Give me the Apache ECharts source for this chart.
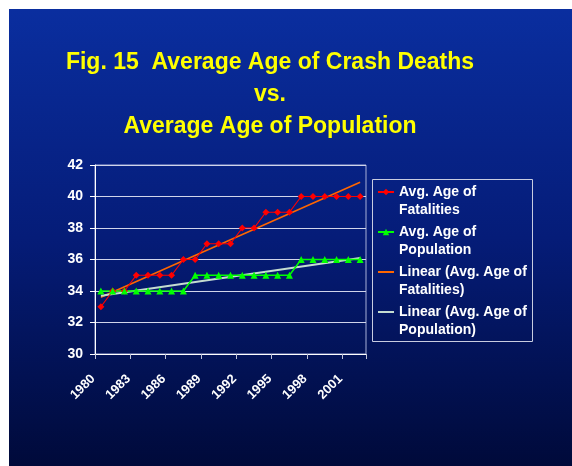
<!DOCTYPE html>
<html>
<head>
<meta charset="utf-8">
<script src="https://cdn.jsdelivr.net/npm/echarts@6/dist/echarts.min.js"></script>
<style>
  html, body { margin: 0; padding: 0; background: #ffffff; }
  #chart { position: absolute; left: 9px; top: 9px; width: 563px; height: 457px; }
</style>
</head>
<body>
<div id="chart"></div>
<script>
// years on the x axis
const years = ["1980","1981","1982","1983","1984","1985","1986","1987","1988","1989","1990",
  "1991","1992","1993","1994","1995","1996","1997","1998","1999","2000","2001","2002"];
// average age of fatalities
const fatalities = [33,34,34,35,35,35,35,36,36,37,37,37,38,38,39,39,39,40,40,40,40,40,40];
// average age of population
const population = [34,34,34,34,34,34,34,34,35,35,35,35,35,35,35,35,35,36,36,36,36,36,36];
// trend line end points
const trendFatal = [["1980", 33.6], ["2002", 40.9]];
const trendPop = [["1980", 33.7], ["2002", 36.1]];
const yTicks = { min: 30, max: 42, step: 2 };

// legend text split in two lines; leading blank line keeps the icon on the first line
const names = {
  "Avg. Age of Fatalities": " \nAvg. Age of\nFatalities",
  "Avg. Age of Population": " \nAvg. Age of\nPopulation",
  "Linear (Avg. Age of Fatalities)": " \nLinear (Avg. Age of\nFatalities)",
  "Linear (Avg. Age of Population)": " \nLinear (Avg. Age of\nPopulation)"
};

const chart = echarts.init(document.getElementById("chart"));
const font = "Liberation Sans, Arial, sans-serif";

const option = {
  backgroundColor: new echarts.graphic.LinearGradient(0, 0, 0, 1, [
    { offset: 0, color: "#0a2e9f" },
    { offset: 0.5, color: "#051c78" },
    { offset: 1, color: "#000a3a" }
  ]),
  animation: false,
  graphic: [
    {
      type: "text",
      x: 261,
      y: 38,
      style: {
        text: "Fig. 15  Average Age of Crash Deaths\nvs.\nAverage Age of Population",
        fill: "#ffff00",
        font: "bold 23px " + font,
        lineHeight: 32,
        align: "center"
      }
    },
    {
      // legend frame
      type: "rect",
      shape: { x: 363.5, y: 170.5, width: 160, height: 162 },
      style: { fill: "none", stroke: "#c8cce0", lineWidth: 1 }
    }
  ],
  grid: {
    left: 86,
    top: 156,
    width: 271,
    height: 189,
    show: true,
    borderColor: "#a8b0d8",
    borderWidth: 1,
    backgroundColor: "transparent"
  },
  legend: {
    orient: "vertical",
    left: 368,
    top: 156,
    padding: 0,
    itemWidth: 16,
    itemHeight: 8,
    itemGap: -14,
    formatter: (n) => names[n] || n,
    textStyle: {
      color: "#ffffff",
      fontSize: 14,
      fontWeight: "bold",
      fontFamily: font,
      lineHeight: 18
    },
    data: [
      { name: "Avg. Age of Fatalities" },
      { name: "Avg. Age of Population" },
      { name: "Linear (Avg. Age of Fatalities)", itemStyle: { opacity: 0 } },
      { name: "Linear (Avg. Age of Population)", itemStyle: { opacity: 0 } }
    ]
  },
  xAxis: {
    type: "category",
    data: years,
    boundaryGap: true,
    axisLine: { lineStyle: { color: "#ffffff", width: 1 } },
    axisTick: { show: true, length: 5, lineStyle: { color: "#c0c4d8" } },
    axisLabel: {
      interval: 2,
      rotate: 45,
      margin: 15,
      padding: [0, 11, 0, 0],
      color: "#ffffff",
      fontSize: 13,
      fontWeight: "bold",
      fontFamily: font
    },
    splitLine: { show: false }
  },
  yAxis: {
    type: "value",
    min: yTicks.min,
    max: yTicks.max,
    interval: yTicks.step,
    axisLine: { show: true, lineStyle: { color: "#ffffff", width: 1 } },
    axisTick: { show: true, length: 5, lineStyle: { color: "#ffffff" } },
    axisLabel: {
      margin: 12,
      color: "#ffffff",
      fontSize: 14,
      fontWeight: "bold",
      fontFamily: font
    },
    splitLine: { show: true, lineStyle: { color: "#d0d4ea", width: 1 } }
  },
  series: [
    {
      name: "Avg. Age of Fatalities",
      type: "line",
      data: fatalities,
      symbol: "diamond",
      symbolSize: 7,
      itemStyle: { color: "#ff0000" },
      lineStyle: { color: "#ff0000", width: 1.2 },
      z: 4
    },
    {
      name: "Avg. Age of Population",
      type: "line",
      data: population,
      symbol: "triangle",
      symbolSize: 7,
      itemStyle: { color: "#00ff00" },
      lineStyle: { color: "#00ff00", width: 1.5 },
      z: 4
    },
    {
      name: "Linear (Avg. Age of Fatalities)",
      type: "line",
      data: trendFatal,
      symbol: "none",
      itemStyle: { color: "#ff6600" },
      lineStyle: { color: "#ff6600", width: 1.6 },
      z: 3
    },
    {
      name: "Linear (Avg. Age of Population)",
      type: "line",
      data: trendPop,
      symbol: "none",
      itemStyle: { color: "#c4dcd0" },
      lineStyle: { color: "#c4dcd0", width: 2 },
      z: 3
    }
  ]
};

chart.setOption(option);
</script>
</body>
</html>
